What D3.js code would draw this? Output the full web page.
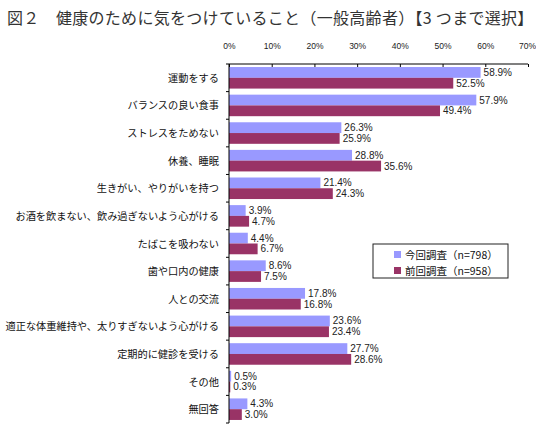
<!DOCTYPE html>
<html>
<head>
<meta charset="utf-8">
<script src="https://cdn.jsdelivr.net/npm/d3@7"></script>
<style>
  body { margin: 0; background: #fff; }
  text { font-family: "Noto Sans CJK JP", sans-serif; }
</style>
</head>
<body>
<svg width="536" height="438"></svg>
<script>
// data
var categories = ["運動をする", "バランスの良い食事", "ストレスをためない", "休養、睡眠",
  "生きがい、やりがいを持つ", "お酒を飲まない、飲み過ぎないよう心がける", "たばこを吸わない",
  "歯や口内の健康", "人との交流", "適正な体重維持や、太りすぎないよう心がける",
  "定期的に健診を受ける", "その他", "無回答"];
var currentValues = [58.9, 57.9, 26.3, 28.8, 21.4, 3.9, 4.4, 8.6, 17.8, 23.6, 27.7, 0.5, 4.3];
var previousValues = [52.5, 49.4, 25.9, 35.6, 24.3, 4.7, 6.7, 7.5, 16.8, 23.4, 28.6, 0.3, 3.0];
var seriesNames = ["今回調査（n=798）", "前回調査（n=958）"];
var xTicks = [0, 10, 20, 30, 40, 50, 60, 70];

var colors = ["#9999ff", "#993366"];

var svg = d3.select("svg"),
    margin = {top: 64, left: 229, right: 8, bottom: 15},
    width = 528 - margin.left,
    height = 423 - margin.top;

var x = d3.scaleLinear().domain([0, 70]).range([0, width]);
var y = d3.scaleBand().domain(categories).range([0, height]).paddingInner(0.22).paddingOuter(0.11);
var ySub = d3.scaleBand().domain([0, 1]).range([0, y.bandwidth()]);

var g = svg.append("g")
    .attr("transform", "translate(" + margin.left + "," + margin.top + ")");

// title
svg.append("text")
    .attr("x", 7)
    .attr("y", 24)
    .attr("fill", "#333")
    .style("font-size", "16px")
    .style("letter-spacing", "0.3px")
    .text("図２　健康のために気をつけていること（一般高齢者）【3 つまで選択】");

// bars
var rows = categories.map(function(c, i) {
  return {cat: c, vals: [currentValues[i], previousValues[i]]};
});
var grp = g.selectAll(".row")
    .data(rows)
  .enter().append("g")
    .attr("class", "row")
    .attr("transform", function(d) { return "translate(0," + y(d.cat) + ")"; });

grp.selectAll("rect")
    .data(function(d) { return d.vals; })
  .enter().append("rect")
    .attr("x", 0)
    .attr("y", function(d, i) { return ySub(i); })
    .attr("width", function(d) { return x(d); })
    .attr("height", ySub.bandwidth())
    .attr("fill", function(d, i) { return colors[i]; });

grp.selectAll("text")
    .data(function(d) { return d.vals; })
  .enter().append("text")
    .attr("x", function(d) { return x(d) + 3; })
    .attr("y", function(d, i) { return ySub(i) + ySub.bandwidth() / 2 + 3.5; })
    .attr("fill", "#222")
    .style("font-size", "10px")
    .style("font-family", "'Liberation Sans Narrow', 'Liberation Sans', sans-serif")
    .text(function(d) { return d.toFixed(1) + "%"; });

// top axis
var xAxis = g.append("g")
    .call(d3.axisTop(x).tickValues(xTicks).tickSize(-3).tickPadding(15)
      .tickFormat(function(d) { return d + "%"; }));
xAxis.select(".domain").attr("d", "M0,0H" + width).attr("stroke", "#000");
xAxis.selectAll("text")
    .style("font-size", "8.5px")
    .style("font-family", "'Liberation Sans Narrow', 'Liberation Sans', sans-serif")
    .attr("fill", "#222")
    .attr("dx", function(d) { return d === 70 ? -1 : 0; });

// left axis with ticks between categories
var yAxis = g.append("g");
yAxis.append("line")
    .attr("x1", 0).attr("x2", 0)
    .attr("y1", 0).attr("y2", height)
    .attr("stroke", "#000");
yAxis.selectAll(".ytick")
    .data(d3.range(categories.length + 1))
  .enter().append("line")
    .attr("x1", -3).attr("x2", 0)
    .attr("y1", function(i) { return i * y.step(); })
    .attr("y2", function(i) { return i * y.step(); })
    .attr("stroke", "#000");
yAxis.selectAll(".ylab")
    .data(categories)
  .enter().append("text")
    .attr("x", -10)
    .attr("y", function(d) { return y(d) + y.bandwidth() / 2 + 4; })
    .attr("text-anchor", "end")
    .attr("fill", "#111")
    .style("font-size", "10.2px")
    .text(function(d) { return d; });

// legend
var legend = svg.append("g")
    .attr("transform", "translate(373,244)");
legend.append("rect")
    .attr("width", 135)
    .attr("height", 34)
    .attr("fill", "#fff")
    .attr("stroke", "#222");
var li = legend.selectAll(".li")
    .data(seriesNames)
  .enter().append("g")
    .attr("transform", function(d, i) { return "translate(22," + (10 + i * 16) + ")"; });
li.append("rect")
    .attr("x", -1).attr("y", -3)
    .attr("width", 7).attr("height", 7)
    .attr("fill", function(d, i) { return colors[i]; });
li.append("text")
    .attr("x", 10)
    .attr("y", 4.5)
    .attr("fill", "#111")
    .style("font-size", "10.5px")
    .text(function(d) { return d; });
</script>
</body>
</html>
